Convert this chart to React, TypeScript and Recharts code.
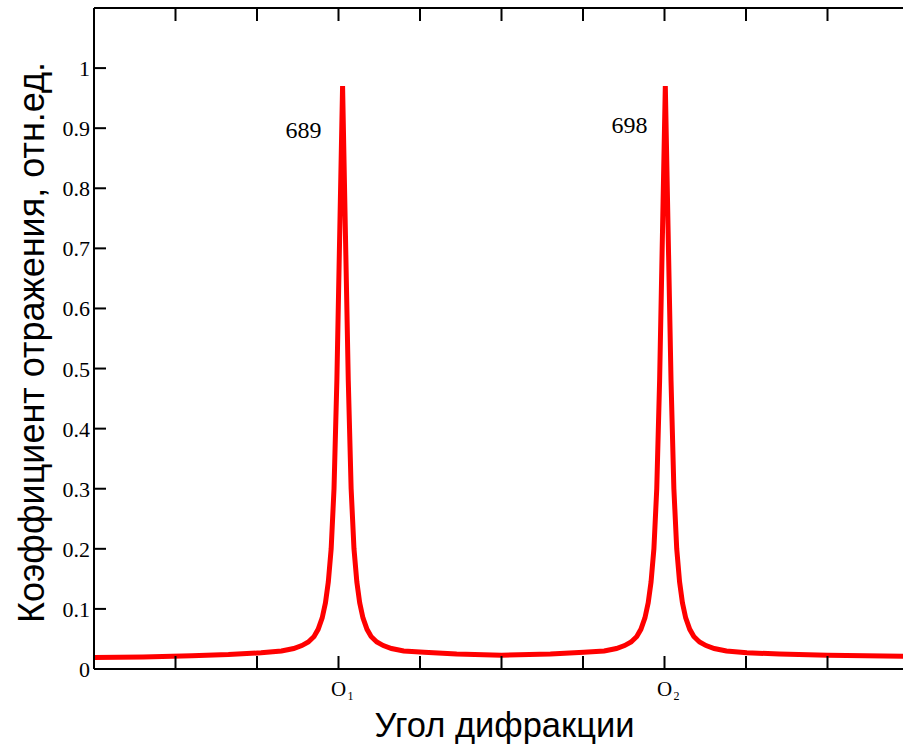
import { LineChart, Line, XAxis, YAxis, ReferenceDot } from "recharts";

// diffraction angle (axis units) and reflection coefficient
const angle = [
  0, 0.6, 1.2, 1.65, 2.05, 2.3, 2.45, 2.55, 2.63, 2.7, 2.75, 2.8, 2.84, 2.875, 2.91, 2.945, 2.98,
  3.05,
  3.12, 3.155, 3.19, 3.225, 3.26, 3.3, 3.35, 3.4, 3.47, 3.55, 3.65, 3.8, 4.05, 4.45, 5.0,
  5.6, 6.01, 6.26, 6.41, 6.51, 6.59, 6.66, 6.71, 6.76, 6.8, 6.835, 6.87, 6.905, 6.94,
  7.01,
  7.08, 7.115, 7.15, 7.185, 7.22, 7.26, 7.31, 7.36, 7.43, 7.51, 7.61, 7.76, 8.01, 8.41, 9.0, 10,
];
const reflection = [
  0.019, 0.02, 0.022, 0.024, 0.027, 0.03, 0.034, 0.039, 0.045, 0.054, 0.066, 0.085, 0.11, 0.145, 0.2, 0.3, 0.48,
  0.97,
  0.48, 0.3, 0.2, 0.145, 0.11, 0.085, 0.066, 0.054, 0.045, 0.039, 0.034, 0.03, 0.028, 0.025, 0.023,
  0.025, 0.028, 0.03, 0.034, 0.039, 0.045, 0.054, 0.066, 0.085, 0.11, 0.145, 0.2, 0.3, 0.48,
  0.97,
  0.48, 0.3, 0.2, 0.145, 0.11, 0.085, 0.066, 0.054, 0.045, 0.039, 0.034, 0.03, 0.027, 0.025, 0.023, 0.021,
];

const xTicks = [0, 1, 2, 3, 4, 5, 6, 7, 8, 9, 10];
const xLabelAt = [3, 7];
const xLabelMain = ["O", "O"];
const xLabelSub = ["1", "2"];

const yTicks = [0, 0.1, 0.2, 0.3, 0.4, 0.5, 0.6, 0.7, 0.8, 0.9, 1, 1.1];
const yLabelMax = 1;

const peakNames = ["689", "698"];
const peakNameX = [2.57, 6.57];
const peakNameY = [0.897, 0.905];

const data = angle.map((a, i) => ({ a, r: reflection[i] }));

const serif = { fontFamily: "'Liberation Serif', 'Times New Roman', serif" };
const sans = { fontFamily: "'Liberation Sans', Arial, sans-serif" };
const ink = "#000";

const BottomTick = (props: any) => {
  const { x, y, payload } = props;
  const k = xLabelAt.indexOf(payload.value);
  return (
    <g>
      <line x1={x} x2={x} y1={y} y2={y - 13} stroke={ink} strokeWidth={2} />
      {k >= 0 && (
        <>
          <text x={x} y={y + 27} textAnchor="middle" style={serif} fontSize={21} fill={ink}>
            {xLabelMain[k]}
          </text>
          <text x={x + 9} y={y + 31} style={serif} fontSize={12} fill={ink}>
            {xLabelSub[k]}
          </text>
        </>
      )}
    </g>
  );
};

const TopTick = (props: any) => {
  const { x, y } = props;
  return <line x1={x} x2={x} y1={y} y2={y + 13} stroke={ink} strokeWidth={2} />;
};

const LeftTick = (props: any) => {
  const { x, y, payload } = props;
  const v = payload.value;
  return (
    <g>
      <line x1={x} x2={x + 12} y1={y} y2={y} stroke={ink} strokeWidth={2} />
      {v <= yLabelMax + 1e-9 && (
        <text x={x - 4} y={y + 8} textAnchor="end" style={serif} fontSize={22} fill={ink}>
          {String(Math.round(v * 10) / 10)}
        </text>
      )}
    </g>
  );
};

const RightTick = (props: any) => {
  const { x, y } = props;
  return <line x1={x} x2={x - 12} y1={y} y2={y} stroke={ink} strokeWidth={2} />;
};

const XTitle = (props: any) => {
  const vb = props.viewBox;
  return (
    <text x={vb.x + vb.width / 2 + 3} y={vb.y + vb.height - 10} textAnchor="middle" style={sans} fontSize={34.5} fill={ink}>
      Угол дифракции
    </text>
  );
};

const YTitle = (props: any) => {
  const vb = props.viewBox;
  const cx = 44;
  const cy = vb.y + vb.height / 2 + 4;
  return (
    <text
      x={cx}
      y={cy}
      transform={`rotate(-90, ${cx}, ${cy})`}
      textAnchor="middle"
      style={sans}
      fontSize={36}
      fill={ink}
    >
      Коэффициент отражения, отн.ед.
    </text>
  );
};

const peakLabel = (text: string) => (props: any) => {
  const vb = props.viewBox || {};
  const cx = (vb.x || 0) + (vb.width || 0) / 2;
  const cy = (vb.y || 0) + (vb.height || 0) / 2;
  return (
    <text x={cx} y={cy + 8} textAnchor="middle" style={serif} fontSize={24} fill={ink}>
      {text}
    </text>
  );
};

export default function App() {
  return (
    <div style={{ position: "absolute", left: 0, top: 0, width: 903, height: 747, overflow: "hidden", background: "#fff" }}>
      <LineChart width={915} height={747} data={data} margin={{ top: 0, right: 0, bottom: 0, left: 0 }}>
        <XAxis
          dataKey="a"
          type="number"
          domain={[0, 10]}
          ticks={xTicks}
          interval={0}
          height={78}
          tickSize={0}
          tickMargin={0}
          tickLine={false}
          axisLine={{ stroke: ink, strokeWidth: 2 }}
          tick={<BottomTick />}
          label={XTitle}
        />
        <XAxis
          xAxisId="top"
          orientation="top"
          dataKey="a"
          type="number"
          domain={[0, 10]}
          ticks={xTicks}
          interval={0}
          height={8}
          tickSize={0}
          tickMargin={0}
          tickLine={false}
          axisLine={{ stroke: ink, strokeWidth: 2 }}
          tick={<TopTick />}
        />
        <YAxis
          type="number"
          domain={[0, 1.1]}
          ticks={yTicks}
          interval={0}
          width={94}
          tickSize={0}
          tickMargin={0}
          tickLine={false}
          axisLine={{ stroke: ink, strokeWidth: 2 }}
          tick={<LeftTick />}
          label={YTitle}
        />
        <YAxis
          yAxisId="right"
          orientation="right"
          type="number"
          domain={[0, 1.1]}
          ticks={yTicks}
          interval={0}
          width={6}
          tickSize={0}
          tickMargin={0}
          tickLine={false}
          axisLine={{ stroke: ink, strokeWidth: 2 }}
          tick={<RightTick />}
        />
        <Line
          dataKey="r"
          type="linear"
          stroke="#ff0000"
          strokeWidth={5}
          dot={false}
          activeDot={false}
          isAnimationActive={false}
        />
        {peakNames.map((n, i) => (
          <ReferenceDot
            key={n}
            x={peakNameX[i]}
            y={peakNameY[i]}
            r={0}
            fill="none"
            stroke="none"
            label={peakLabel(n)}
          />
        ))}
      </LineChart>
    </div>
  );
}
